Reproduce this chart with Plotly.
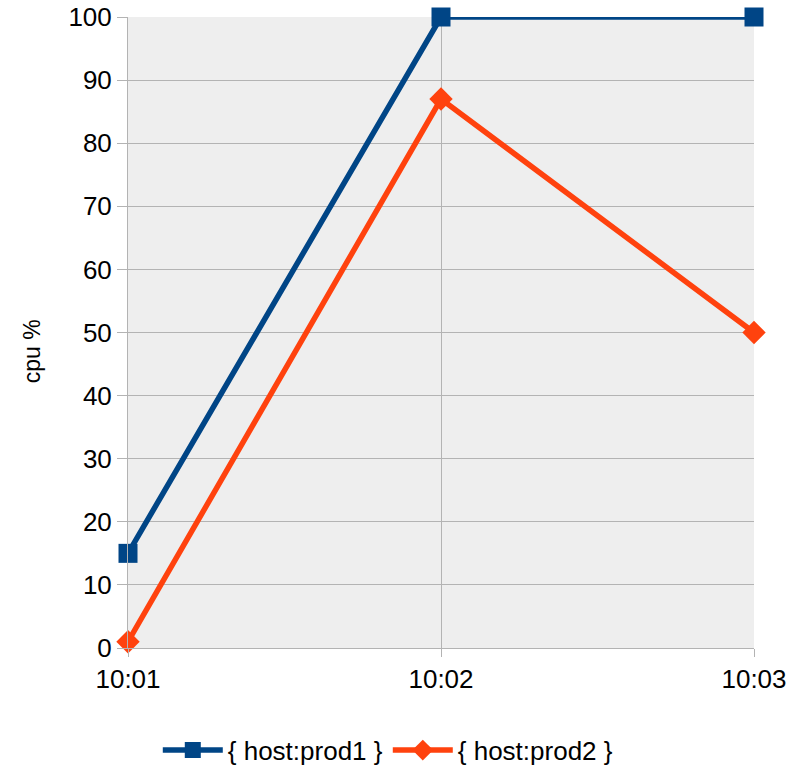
import plotly.graph_objects as go

times = ["10:01", "10:02", "10:03"]
prod1 = [15, 100, 100]
prod2 = [1, 87, 50]
y_ticks = [0, 10, 20, 30, 40, 50, 60, 70, 80, 90, 100]

fig = go.Figure()
fig.add_trace(go.Scatter(x=times, y=prod1, mode="lines+markers", name="{ host:prod1 }",
                         line=dict(color="#004586", width=5.5), cliponaxis=False,
                         marker=dict(symbol="square", size=19, color="#004586")))
fig.add_trace(go.Scatter(x=times, y=prod2, mode="lines+markers", name="{ host:prod2 }",
                         line=dict(color="#ff420e", width=5.5), cliponaxis=False,
                         marker=dict(symbol="diamond", size=18, color="#ff420e")))

fig.update_layout(
    width=806, height=765,
    margin=dict(l=128, r=52, t=17, b=117, autoexpand=False),
    paper_bgcolor="white", plot_bgcolor="#eeeeee",
    font=dict(family="Liberation Sans, Arial, sans-serif", size=26, color="black"),
    legend=dict(orientation="h", x=0.415, xanchor="center", y=-0.162, yanchor="middle",
                font=dict(size=26), itemwidth=60),
    xaxis=dict(type="category", range=[0, 2], showgrid=True, gridcolor="#b3b3b3", gridwidth=1,
               ticks="outside", ticklen=8, tickcolor="#b3b3b3", showline=True, linecolor="#b3b3b3",
               tickfont=dict(size=26)),
    yaxis=dict(range=[0, 100], tickvals=y_ticks, showgrid=True, gridcolor="#b3b3b3", gridwidth=1,
               ticks="outside", ticklen=10, tickcolor="#b3b3b3", showline=True, linecolor="#b3b3b3",
               zeroline=False, tickfont=dict(size=26)),
    annotations=[dict(text="cpu %", xref="paper", yref="paper", x=-0.152, y=0.47,
                      xanchor="center", yanchor="middle", textangle=-90, showarrow=False,
                      font=dict(size=23))],
    showlegend=True,
)
fig.write_html("out.html")
